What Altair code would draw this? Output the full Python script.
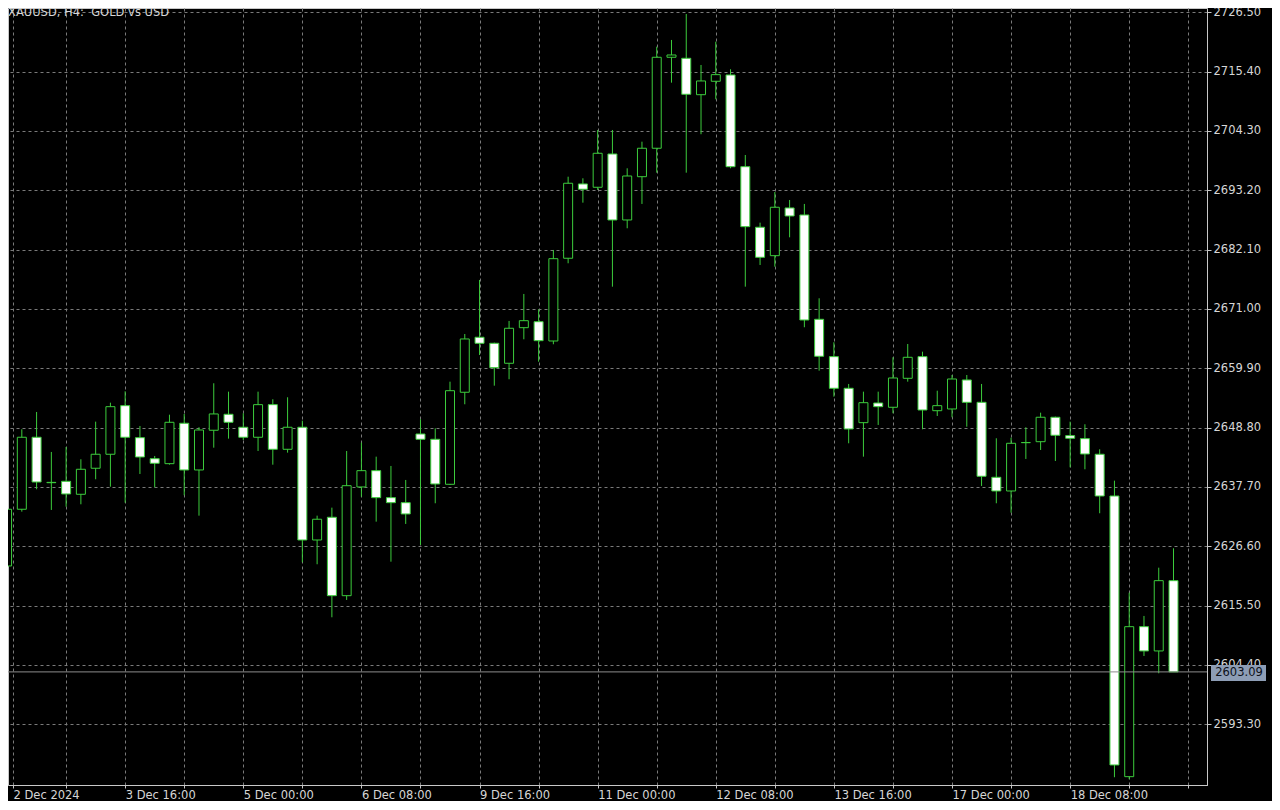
import altair as alt
import pandas as pd

# ---- data (XAUUSD H4) ----
opens = [2622.91, 2633.52, 2646.99, 2638.55, 2638.75, 2636.32, 2641.19, 2643.81, 2652.90, 2646.91,
         2642.98, 2642.05, 2649.61, 2640.87, 2648.30, 2651.29, 2648.86, 2646.99, 2653.09, 2644.74,
         2648.86, 2627.77, 2632.02, 2617.35, 2637.69, 2640.74, 2635.69, 2634.75, 2647.60, 2646.61,
         2638.19, 2655.41, 2665.70, 2664.57, 2660.83, 2667.49, 2668.61, 2665.00, 2680.48, 2694.38,
         2693.76, 2699.99, 2687.64, 2695.74, 2701.06, 2718.08, 2717.89, 2711.08, 2713.59, 2714.77,
         2697.61, 2686.28, 2680.96, 2689.89, 2688.58, 2669.06, 2662.07, 2656.15, 2649.72, 2653.40,
         2652.60, 2658.02, 2662.07, 2651.96, 2652.28, 2657.71, 2653.53, 2639.50, 2636.94, 2645.98,
         2646.16, 2650.73, 2647.29, 2646.73, 2643.81, 2636.00, 2583.49, 2611.55, 2607.01, 2620.16]
highs = [2634.00, 2648.48, 2651.72, 2644.24, 2645.17, 2642.87, 2649.91, 2653.46, 2655.59, 2649.10,
         2643.49, 2651.21, 2651.35, 2648.86, 2657.09, 2655.52, 2651.48, 2655.52, 2654.10, 2654.47,
         2650.09, 2632.32, 2633.82, 2644.42, 2645.98, 2643.36, 2641.62, 2639.00, 2650.35, 2648.67,
         2657.39, 2666.31, 2676.42, 2664.70, 2668.75, 2673.80, 2670.93, 2682.03, 2695.74, 2695.44,
         2704.48, 2704.48, 2697.31, 2702.29, 2720.06, 2721.32, 2726.18, 2716.64, 2721.00, 2715.84,
         2699.80, 2687.14, 2692.88, 2691.38, 2690.64, 2672.99, 2664.76, 2656.96, 2655.52, 2655.52,
         2661.95, 2664.44, 2663.00, 2655.70, 2658.64, 2658.64, 2656.96, 2646.80, 2646.91, 2648.86,
         2651.59, 2650.85, 2649.91, 2649.42, 2644.74, 2638.87, 2617.91, 2613.56, 2622.59, 2626.22]
lows = [2622.50, 2633.07, 2637.26, 2633.39, 2634.00, 2634.45, 2639.13, 2637.74, 2634.75, 2640.12,
        2637.63, 2641.86, 2636.14, 2632.32, 2645.04, 2646.73, 2646.48, 2644.42, 2641.86, 2644.11,
        2623.60, 2623.23, 2613.31, 2616.55, 2635.87, 2631.20, 2623.71, 2630.77, 2626.84, 2634.64,
        2638.06, 2653.16, 2662.38, 2656.64, 2657.84, 2665.32, 2661.13, 2664.39, 2679.54, 2690.88,
        2693.25, 2675.16, 2686.09, 2690.64, 2696.49, 2713.33, 2696.49, 2703.68, 2710.22, 2697.31,
        2675.16, 2679.22, 2678.90, 2684.40, 2667.57, 2659.45, 2654.58, 2645.86, 2643.36, 2649.29,
        2651.48, 2657.39, 2648.48, 2650.97, 2650.73, 2648.97, 2637.88, 2634.64, 2632.88, 2642.93,
        2644.61, 2642.55, 2641.37, 2641.00, 2632.77, 2583.38, 2583.00, 2606.07, 2602.83, 2603.09]
closes = [2633.52, 2646.99, 2638.62, 2638.49, 2636.38, 2641.00, 2643.81, 2652.71, 2646.99, 2643.30,
          2642.12, 2649.79, 2640.87, 2648.35, 2651.35, 2649.79, 2646.99, 2653.09, 2644.74, 2648.86,
          2627.77, 2631.65, 2617.35, 2637.93, 2640.74, 2635.69, 2634.75, 2632.64, 2646.61, 2638.25,
          2655.70, 2665.38, 2664.57, 2660.01, 2667.38, 2668.80, 2665.06, 2680.40, 2694.51, 2693.39,
          2700.12, 2687.64, 2695.87, 2701.06, 2718.08, 2718.51, 2711.16, 2713.65, 2714.83, 2697.61,
          2686.39, 2680.66, 2690.02, 2688.39, 2668.93, 2662.14, 2656.15, 2648.54, 2653.46, 2652.71,
          2658.08, 2661.95, 2652.09, 2652.90, 2657.89, 2653.53, 2639.69, 2636.94, 2645.86, 2646.00,
          2650.73, 2647.36, 2646.80, 2643.86, 2636.00, 2585.68, 2611.55, 2607.01, 2620.16, 2603.09]

time_tick_bars = [8, 16, 24, 32, 40, 48, 56, 64, 72]
time_tick_labels = ["3 Dec 16:00", "5 Dec 00:00", "6 Dec 08:00", "9 Dec 16:00", "11 Dec 00:00",
                    "12 Dec 08:00", "13 Dec 16:00", "17 Dec 00:00", "18 Dec 08:00"]
first_label = "2 Dec 2024"
grid_bars = [4, 8, 12, 16, 20, 24, 28, 32, 36, 40, 44, 48, 52, 56, 60, 64, 68, 72, 76, 80]
price_ticks = [2593.30, 2604.40, 2615.50, 2626.60, 2637.70, 2648.80, 2659.90,
               2671.00, 2682.10, 2693.20, 2704.30, 2715.40, 2726.50]
current_price = 2603.09
title_text = "XAUUSD,\u00a0H4:\u00a0\u00a0GOLD vs USD"

# ---- layout / style ----
X_MIN, X_MAX = 0.403, 80.93
Y_MIN, Y_MAX = 2581.93, 2727.30
W, H = 1199, 777
GREEN = "#3ccc3c"
GRID = "#7a7a7a"
FRAME = "#c8c8c8"
TEXT = "#d6d6d6"
FONT = "DejaVu Sans"
FS = 11.5

df = pd.DataFrame({"bar": list(range(len(opens))), "open": opens, "high": highs,
                   "low": lows, "close": closes})

label_vals = [X_MIN] + time_tick_bars
label_texts = [first_label] + time_tick_labels
vals_js = "[" + ",".join(str(v) for v in label_vals) + "]"
labs_js = "[" + ",".join("'" + t + "'" for t in label_texts) + "]"
label_expr = (f"indexof({vals_js}, datum.value) >= 0 ? "
              f"{labs_js}[indexof({vals_js}, datum.value)] : ''")

x_scale = alt.Scale(domain=[X_MIN, X_MAX], nice=False, zero=False)
y_scale = alt.Scale(domain=[Y_MIN, Y_MAX], nice=False, zero=False)

x_axis = alt.Axis(values=[X_MIN] + grid_bars, labelExpr=label_expr, orient="bottom",
                  grid=True, gridColor=GRID, gridDash=[3, 3], gridWidth=1,
                  tickSize=3, tickColor=FRAME, domainColor=FRAME,
                  labelColor=TEXT, labelFont=FONT, labelFontSize=FS,
                  labelAlign="left", labelBaseline="top", labelPadding=1,
                  labelOverlap=False, labelFlush=False, title=None)
y_axis = alt.Axis(values=price_ticks, format=".2f", orient="right",
                  grid=True, gridColor=GRID, gridDash=[3, 3], gridWidth=1,
                  tickSize=4, tickColor=FRAME, domainColor=FRAME,
                  labelColor=TEXT, labelFont=FONT, labelFontSize=FS,
                  labelPadding=2, labelOverlap=False, labelFlush=False, title=None)

base = alt.Chart(df)

wicks = base.mark_rule(color=GREEN, strokeWidth=1, clip=True).encode(
    x=alt.X("bar:Q", scale=x_scale, axis=x_axis),
    y=alt.Y("low:Q", scale=y_scale, axis=y_axis),
    y2="high:Q",
)

bodies = base.mark_bar(size=9, stroke=GREEN, strokeWidth=1, clip=True).encode(
    x=alt.X("bar:Q", scale=x_scale),
    y=alt.Y("open:Q", scale=y_scale),
    y2="close:Q",
    fill=alt.condition("datum.close >= datum.open", alt.value("black"), alt.value("white")),
)

price_df = pd.DataFrame({"price": [current_price], "label": [f"{current_price:.2f}"]})
price_line = alt.Chart(price_df).mark_rule(color="#8c8c8c", strokeWidth=1).encode(
    y=alt.Y("price:Q", scale=y_scale)
)
price_box = alt.Chart(price_df).mark_point(
    shape="M-1,-0.29L1,-0.29L1,0.29L-1,0.29Z", size=3025, filled=True,
    color="#8d9db5", opacity=1, strokeWidth=0, clip=False, yOffset=1
).encode(x=alt.value(1230.5), y=alt.Y("price:Q", scale=y_scale))
price_text = alt.Chart(price_df).mark_text(
    font=FONT, fontSize=FS, color="#0c1018", align="center", baseline="middle",
    clip=False, yOffset=1
).encode(x=alt.value(1231), y=alt.Y("price:Q", scale=y_scale), text="label:N")

title_df = pd.DataFrame({"t": [title_text]})
title = alt.Chart(title_df).mark_text(
    font=FONT, fontSize=FS, color=TEXT, align="left", baseline="middle", clip=False
).encode(x=alt.value(0), y=alt.value(4.8), text="t:N")

chart = alt.layer(wicks, bodies, price_line, price_box, price_text, title).properties(
    width=W, height=H,
    padding={"left": 0, "top": 0, "right": 65, "bottom": 16},
    autosize=alt.AutoSizeParams(type="none"),
).configure(background="black").configure_view(fill="black", stroke=FRAME, strokeWidth=1)

chart.save("out.html", embed_options={"renderer": "svg", "actions": False})
